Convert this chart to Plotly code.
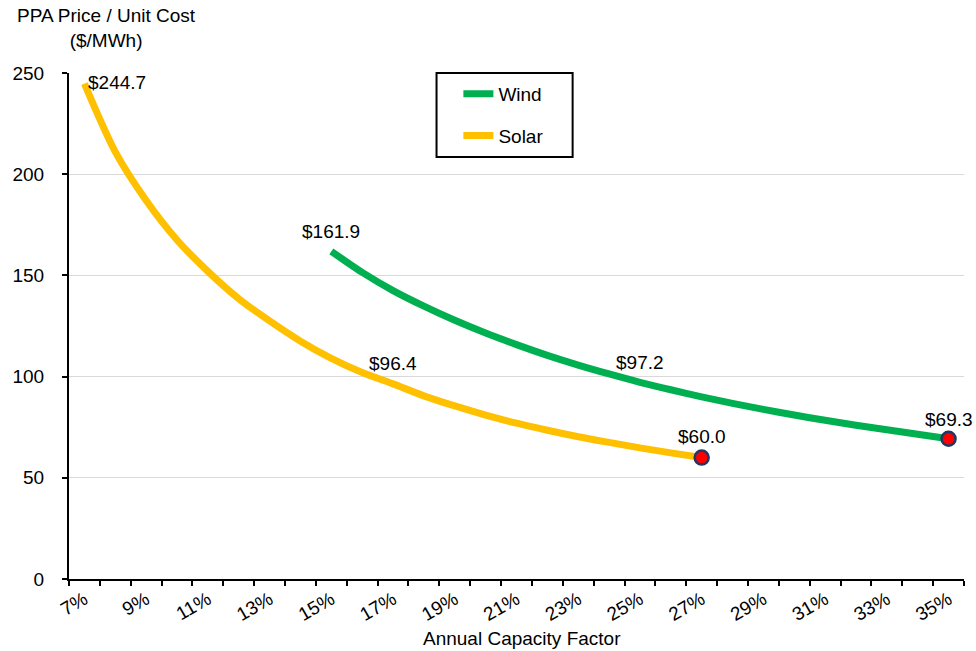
import plotly.graph_objects as go

# Annual capacity factor (%) for each series
solar_cf = [7, 8, 9, 10, 11, 12, 13, 14, 15, 16, 17, 18, 19, 20, 21, 22, 23, 24, 25, 26, 27]
solar_cost = [244.7, 211.0, 187.0, 167.5, 152.0, 138.5, 127.5, 117.5, 109.0, 102.0, 96.4,
              90.5, 85.5, 81.0, 77.0, 73.5, 70.3, 67.5, 64.8, 62.3, 60.0]

wind_cf = [15, 16, 17, 18, 19, 20, 21, 22, 23, 24, 25, 26, 27, 28, 29, 30, 31, 32, 33, 34, 35]
wind_cost = [161.9, 151.5, 142.5, 134.8, 127.8, 121.5, 115.8, 110.5, 105.7, 101.3, 97.2,
             93.5, 90.0, 86.8, 83.8, 81.0, 78.4, 76.0, 73.7, 71.5, 69.3]

# Points that carry a value label: (cf, cost, anchor, xshift, yshift)
solar_labels = [(7, 244.7, "left", 2, 1), (17, 96.4, "center", 0, 20), (27, 60.0, "center", 0, 21)]
wind_labels = [(15, 161.9, "center", 0, 20), (25, 97.2, "center", 0, 20), (35, 69.3, "center", 0, 19)]

tick_vals = list(range(7, 36, 2))
tick_text = [f"{v}%" for v in tick_vals]

WIND = "#00B050"
SOLAR = "#FFC000"
FONT = "Liberation Sans, Arial, sans-serif"
FS = 19

# Plot area in pixels: left 63, right 964, top 73, bottom 579
PW, PH = 901, 506


def px_x(p):
    return (p - 63) / PW


def px_y(p):
    return 1 - (p - 73) / PH


fig = go.Figure()

fig.add_trace(go.Scatter(
    x=wind_cf, y=wind_cost, mode="lines", name="Wind",
    line=dict(color=WIND, width=7, shape="spline", smoothing=0.8), legendgroup="wind",
))
fig.add_trace(go.Scatter(
    x=solar_cf, y=solar_cost, mode="lines", name="Solar",
    line=dict(color=SOLAR, width=7, shape="spline", smoothing=0.8), legendgroup="solar",
))

# End-point markers
fig.add_trace(go.Scatter(
    x=[solar_cf[-1], wind_cf[-1]], y=[solar_cost[-1], wind_cost[-1]],
    mode="markers", showlegend=False, hoverinfo="skip",
    marker=dict(color="#FF0000", size=14, line=dict(color="#1F3864", width=2.5)),
))

for cf, cost, anchor, xs, ys in solar_labels + wind_labels:
    fig.add_annotation(
        x=cf, y=cost, xref="x", yref="y", text=f"${cost:.1f}", showarrow=False,
        xanchor=anchor, yanchor="middle", xshift=xs, yshift=ys,
        font=dict(size=FS, color="#000000", family=FONT),
    )

# Axis titles
fig.add_annotation(
    text="PPA Price / Unit Cost<br>($/MWh)", xref="paper", yref="paper",
    x=px_x(101), y=1, xanchor="center", yanchor="bottom", yshift=20,
    showarrow=False, align="center", font=dict(size=FS, color="#000000", family=FONT),
)
fig.add_annotation(
    text="Annual Capacity Factor", xref="paper", yref="paper",
    x=px_x(519), y=0, xanchor="center", yanchor="middle", yshift=-59,
    showarrow=False, font=dict(size=FS, color="#000000", family=FONT),
)

# Legend frame
fig.add_shape(
    type="rect", xref="paper", yref="paper",
    x0=px_x(433), x1=px_x(570), y0=px_y(157), y1=px_y(73),
    line=dict(color="#000000", width=2), fillcolor="rgba(0,0,0,0)", layer="above",
)

fig.update_layout(
    width=976, height=651,
    margin=dict(l=63, r=12, t=73, b=72),
    paper_bgcolor="white", plot_bgcolor="white",
    font=dict(family=FONT, size=FS, color="#000000"),
    showlegend=True,
    legend=dict(
        x=px_x(455), y=px_y(75), xanchor="left", yanchor="top",
        borderwidth=0, bgcolor="rgba(0,0,0,0)",
        font=dict(size=FS, family=FONT), tracegroupgap=14,
        itemwidth=30,
    ),
    xaxis=dict(
        range=[6.5, 35.5], tickmode="array", tickvals=tick_vals, ticktext=tick_text,
        ticks="", tickangle=-30, showgrid=False, zeroline=False,
        showline=True, linecolor="#000000", linewidth=2,
        tickfont=dict(size=FS, family=FONT),
        minor=dict(ticks="outside", ticklen=5, tickwidth=2, tickcolor="#000000",
                   tick0=6.5, dtick=1, showgrid=False),
    ),
    yaxis=dict(
        range=[0, 250], tickmode="array", tickvals=[0, 50, 100, 150, 200, 250],
        ticks="outside", ticklen=5, tickwidth=2, tickcolor="#000000",
        showgrid=True, gridcolor="#D9D9D9", gridwidth=1, zeroline=False,
        showline=True, linecolor="#000000", linewidth=2,
        tickfont=dict(size=FS, family=FONT), ticklabelstandoff=14,
    ),
)

fig.write_html("out.html")
